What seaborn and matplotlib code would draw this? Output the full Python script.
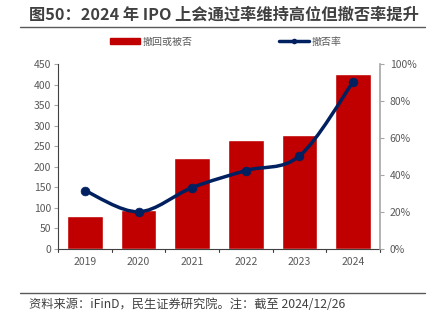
import matplotlib
matplotlib.use("Agg")
import matplotlib.pyplot as plt
import seaborn as sns
import numpy as np
import pandas as pd
from matplotlib.path import Path
from matplotlib.patches import PathPatch
from matplotlib.lines import Line2D
from matplotlib.patches import Patch

years = ["2019", "2020", "2021", "2022", "2023", "2024"]
withdrawn = [80, 95, 221, 265, 277, 426]
reject_rate = [31.6, 20.1, 33.2, 42.4, 50.3, 90.4]
left_ticks = [0, 50, 100, 150, 200, 250, 300, 350, 400, 450]
right_ticks = [0, 20, 40, 60, 80, 100]
title = "图50：2024 年 IPO 上会通过率维持高位但撤否率提升"
source = "资料来源：iFinD，民生证券研究院。注：截至 2024/12/26"
bar_label = "撤回或被否"
line_label = "撤否率"

sns.set_theme(style="white")
plt.rcParams['font.family'] = ['Noto Sans CJK SC', 'DejaVu Sans']

BAR = "#C00000"
LINE = "#002060"
TXT = "#595959"
AX = "#A6A6A6"

fig = plt.figure(figsize=(4.38, 3.24), dpi=100)
ax = fig.add_axes([58/438, 1-249/324, 322/438, 185/324])

df = pd.DataFrame({"year": years, "n": withdrawn, "rate": reject_rate})
sns.barplot(data=df, x="year", y="n", color=BAR, width=0.67, ax=ax, saturation=1)
ax.set_xlim(-0.5, 5.5)
ax.set_ylim(0, 450)
ax.set_yticks(left_ticks)
ax.set_xlabel("")
ax.set_ylabel("")
ax.tick_params(axis="both", labelsize=7.5, colors=TXT, length=3, width=0.8)
ax.tick_params(axis="y", colors=AX, labelcolor=TXT, pad=2)
ax.tick_params(axis="x", length=0, pad=6)
for b in np.arange(-0.5, 6.0, 1.0):
    ax.plot([b, b], [0, -7], color="#404040", lw=0.8, clip_on=False)
ax.set_xticks(range(6))
ax.set_xticklabels(years)
for s in ["top", "right"]:
    ax.spines[s].set_visible(False)
ax.spines["left"].set_color("#404040")
ax.spines["left"].set_linewidth(0.8)
ax.spines["bottom"].set_color("#404040")
ax.spines["bottom"].set_linewidth(0.8)

ax2 = ax.twinx()
ax2.set_ylim(0, 100)
ax2.set_yticks(right_ticks)
ax2.set_yticklabels([f"{t}%" for t in right_ticks])
ax2.tick_params(axis="y", labelsize=7.5, colors=AX, labelcolor=TXT, length=3, width=0.8, pad=4)
for s in ["top", "left", "bottom"]:
    ax2.spines[s].set_visible(False)
ax2.spines["right"].set_color(AX)
ax2.spines["right"].set_linewidth(1.2)

# smooth curve through the data points (Catmull-Rom -> cubic Bezier)
xs = np.arange(len(years), dtype=float)
ys = np.array(reject_rate, dtype=float)
verts = [(xs[0], ys[0])]
codes = [Path.MOVETO]
t = 0.5 / 3
for i in range(len(xs) - 1):
    p0 = (xs[max(i-1, 0)], ys[max(i-1, 0)])
    p1 = (xs[i], ys[i])
    p2 = (xs[i+1], ys[i+1])
    p3 = (xs[min(i+2, len(xs)-1)], ys[min(i+2, len(xs)-1)])
    c1 = (p1[0] + (p2[0]-p0[0])*t, p1[1] + (p2[1]-p0[1])*t)
    c2 = (p2[0] - (p3[0]-p1[0])*t, p2[1] - (p3[1]-p1[1])*t)
    verts += [c1, c2, p2]
    codes += [Path.CURVE4]*3
ax2.add_patch(PathPatch(Path(verts, codes), fill=False, edgecolor=LINE, lw=2.5, zorder=3))
sns.scatterplot(x=xs, y=ys, color=LINE, s=40, edgecolor=LINE, ax=ax2, zorder=4)

# title
fig.text(29/438, 1-15/324, title, ha="left", va="center", fontsize=11.7,
         fontweight="bold", color="#404040")
fig.add_artist(Line2D([20/438, 425/438], [1-26.5/324]*2, color="#595959", lw=1.0))

# legend
handles = [Patch(facecolor=BAR, edgecolor=BAR),
           Line2D([0], [0], color=LINE, lw=2.5, marker="o", markersize=3)]
fig.legend(handles, [bar_label, line_label], loc="center", bbox_to_anchor=(226/438, 1-41.5/324),
           ncol=2, frameon=False, fontsize=7.2, labelcolor=TXT, columnspacing=8.6,
           handlelength=3, handleheight=0.6, handletextpad=0.3)

# footer
fig.add_artist(Line2D([20/438, 425/438], [1-292.5/324]*2, color="#595959", lw=1.0))
fig.text(29/438, 1-305/324, source, ha="left", va="center", fontsize=8.8, color="#404040")

fig.savefig("out.png", dpi=100)
